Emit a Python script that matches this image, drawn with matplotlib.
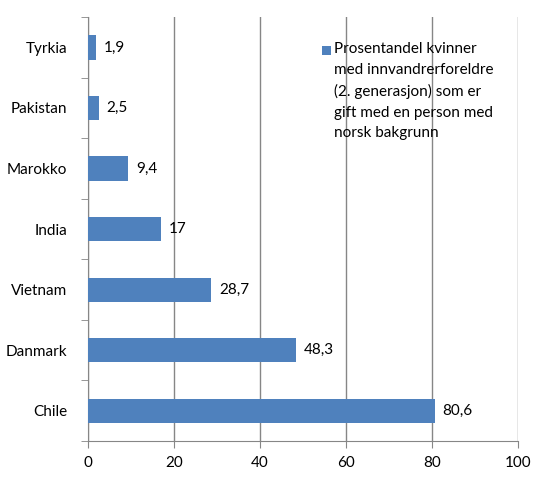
import matplotlib.pyplot as plt
from matplotlib.patches import Rectangle
import numpy as np

plt.rcParams['font.family'] = ['Lato', 'DejaVu Sans']

countries = ['Tyrkia', 'Pakistan', 'Marokko', 'India', 'Vietnam', 'Danmark', 'Chile']
values = [1.9, 2.5, 9.4, 17, 28.7, 48.3, 80.6]
value_labels = ['1,9', '2,5', '9,4', '17', '28,7', '48,3', '80,6']
legend_text = ('Prosentandel kvinner\nmed innvandrerforeldre\n(2. generasjon) som er\n'
               'gift med en person med\nnorsk bakgrunn')

bar_color = '#4F81BD'
grid_color = '#868686'
fs = 11

fig = plt.figure(figsize=(5.6, 4.9), dpi=100)
ax = fig.add_axes([0.157, 0.1, 0.768, 0.865])

y = np.arange(len(countries))
ax.barh(y, values, height=0.4, color=bar_color, zorder=3)

for yi, v, lab in zip(y, values, value_labels):
    ax.text(v + 1.8, yi, lab, va='center', ha='left', fontsize=fs)

ax.set_xlim(0, 100)
ax.set_ylim(len(countries) - 0.5, -0.5)
ax.set_xticks(np.arange(0, 101, 20))
ax.set_yticks(y)
ax.set_yticklabels(countries)
ax.set_yticks(np.arange(-0.5, len(countries), 1), minor=True)
ax.tick_params(axis='y', which='major', length=0, pad=15, labelsize=fs)
ax.tick_params(axis='y', which='minor', length=5, color=grid_color, direction='out')
ax.tick_params(axis='x', length=5, color=grid_color, direction='out', pad=6, labelsize=fs)

ax.grid(axis='x', color=grid_color, linewidth=1, zorder=0)
for s in ['top', 'right']:
    ax.spines[s].set_visible(False)
for s in ['left', 'bottom']:
    ax.spines[s].set_color(grid_color)

# legend: square marker at the first line, text block beside it
sq_w = 9 / 430
sq_h = 9 / 424
ax.add_patch(Rectangle((0.544, (441 - 55) / 424), sq_w, sq_h, transform=ax.transAxes,
                       facecolor=bar_color, edgecolor='none', clip_on=False, zorder=5))
ax.text((334 - 88) / 430, (441 - 42) / 424, legend_text, transform=ax.transAxes,
        ha='left', va='top', fontsize=fs, linespacing=1.6, zorder=5)

fig.savefig('out.png', dpi=100)
